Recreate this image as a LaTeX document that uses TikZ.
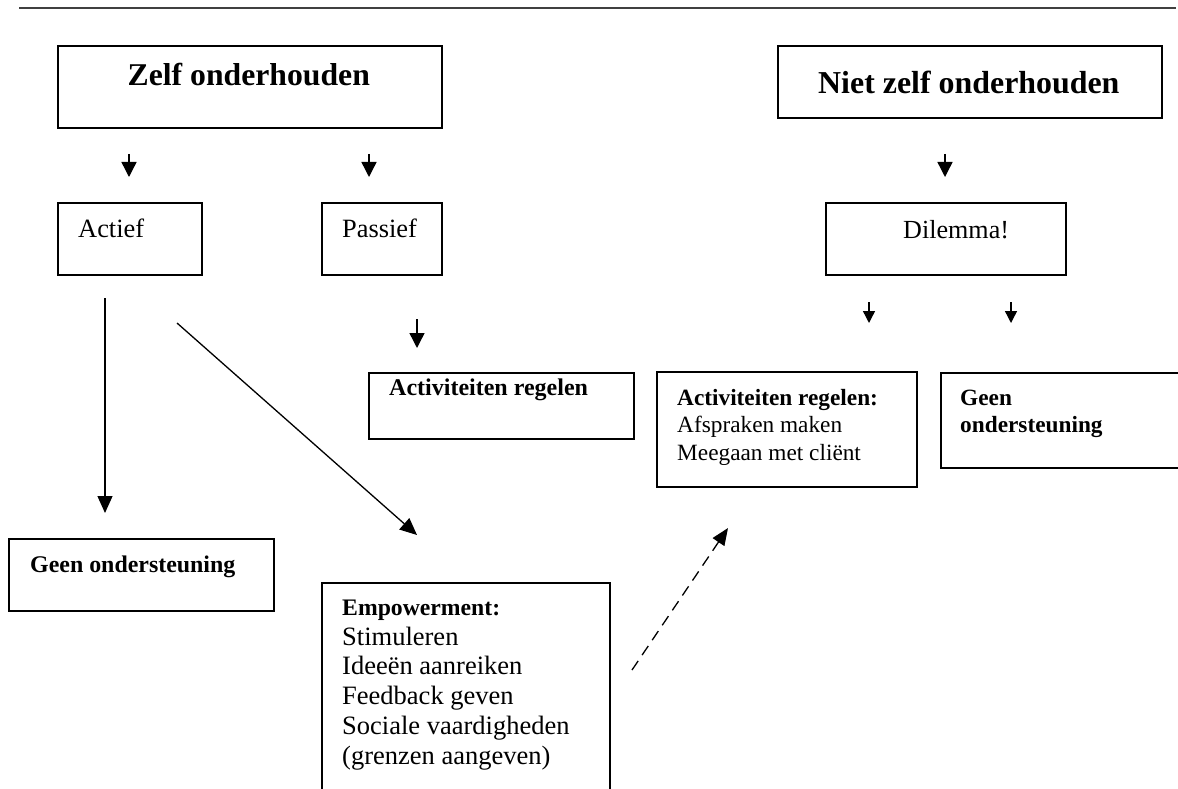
\documentclass[tikz,border=0pt]{standalone}
\usepackage{fontspec}
\setmainfont{Liberation Serif}
\usetikzlibrary{arrows.meta}
\begin{document}
\begin{tikzpicture}[x=1pt,y=-1pt,
  diagbox/.style={draw, line width=1.8pt, rectangle, inner sep=0pt, anchor=north west},
  lbl/.style={anchor=north west, inner sep=0pt, align=left},
  flow/.style={line width=1.4pt, -{Triangle[length=15pt,width=15pt]}},
  longflow/.style={line width=1.3pt, -{Triangle[length=17pt,width=15pt]}},
  tinyflow/.style={line width=1.4pt, -{Triangle[length=12pt,width=12pt]}},
  dashflow/.style={line width=1.3pt, dash pattern=on 11pt off 7pt, -{Triangle[length=17pt,width=14pt]}}]
\useasboundingbox (0,0) rectangle (1178,789);
\clip (0,0) rectangle (1178,789);
\fill[white] (0,0) rectangle (1178,789);

% rule along the top of the page
\coordinate (ruleL) at (19,8);
\coordinate (ruleR) at (1176,8);
\draw[line width=1.8pt, black!75] (ruleL) -- (ruleR);

% boxes
\node[diagbox, minimum width=384pt, minimum height=82pt] (zelf) at (57,45) {};
\node[diagbox, minimum width=384pt, minimum height=72pt] (niet) at (777,45) {};
\node[diagbox, minimum width=144pt, minimum height=72pt] (actief) at (57,202) {};
\node[diagbox, minimum width=120pt, minimum height=72pt] (passief) at (321,202) {};
\node[diagbox, minimum width=240pt, minimum height=72pt] (dilemma) at (825,202) {};
\node[diagbox, minimum width=265pt, minimum height=66pt] (regelen) at (368,372) {};
\node[diagbox, minimum width=260pt, minimum height=115pt] (afspraken) at (656,371) {};
\node[diagbox, minimum width=260pt, minimum height=95pt] (geenR) at (940,372) {};
\node[diagbox, minimum width=265pt, minimum height=72pt] (geenL) at (8,538) {};
\node[diagbox, minimum width=288pt, minimum height=240pt] (empower) at (321,582) {};

% texts
\node[lbl, font=\fontsize{31.7}{36}\selectfont\bfseries] (zelf-t) at (127.5,60) {\rule{0pt}{25pt}Zelf onderhouden};
\node[lbl, font=\fontsize{31.9}{36}\selectfont\bfseries] (niet-t) at (818,68) {\rule{0pt}{25pt}Niet zelf onderhouden};
\node[lbl, font=\fontsize{26.4}{30}\selectfont] (actief-t) at (78,215) {\rule{0pt}{22pt}Actief};
\node[lbl, font=\fontsize{26.4}{30}\selectfont] (passief-t) at (342,215) {\rule{0pt}{22pt}Passief};
\node[lbl, font=\fontsize{26.1}{30}\selectfont] (dilemma-t) at (903,216) {\rule{0pt}{22pt}Dilemma!};
\node[lbl, font=\fontsize{24}{28}\selectfont\bfseries] (regelen-t) at (389,373) {\rule{0pt}{22pt}Activiteiten regelen};
\node[lbl, font=\fontsize{23.3}{27.5}\selectfont] (afspraken-t) at (677,383)
  {\rule{0pt}{22pt}\textbf{Activiteiten regelen:}\\ Afspraken maken\\ Meegaan met cliënt};
\node[lbl, font=\fontsize{23.3}{27.3}\selectfont\bfseries] (geenR-t) at (960,383)
  {\rule{0pt}{22pt}Geen\\ ondersteuning};
\node[lbl, font=\fontsize{23.9}{28}\selectfont\bfseries] (geenL-t) at (30,550) {\rule{0pt}{22pt}Geen ondersteuning};
\node[lbl, font=\fontsize{26.5}{29.8}\selectfont] (empower-t) at (342,593)
  {\rule{0pt}{22pt}{\fontsize{23.7}{29.8}\selectfont\bfseries Empowerment:}\\ Stimuleren\\ Ideeën aanreiken\\
   Feedback geven\\ Sociale vaardigheden\\ (grenzen aangeven)};

% connector end points
\coordinate (z1s) at (129,154);  \coordinate (z1e) at (129,177);
\coordinate (z2s) at (369,154);  \coordinate (z2e) at (369,177);
\coordinate (n1s) at (945,154);  \coordinate (n1e) at (945,177);
\coordinate (a1s) at (105,298);  \coordinate (a1e) at (105,513);
\coordinate (a2s) at (177,323);  \coordinate (a2e) at (417,535);
\coordinate (p1s) at (417,319);  \coordinate (p1e) at (417,348);
\coordinate (d1s) at (869,302);  \coordinate (d1e) at (869,323);
\coordinate (d2s) at (1011,302); \coordinate (d2e) at (1011,323);
\coordinate (e1s) at (632,670);  \coordinate (e1e) at (728,528);

% connectors
\draw[flow] (z1s) -- (z1e);
\draw[flow] (z2s) -- (z2e);
\draw[flow] (n1s) -- (n1e);
\draw[longflow] (a1s) -- (a1e);
\draw[longflow] (a2s) -- (a2e);
\draw[flow] (p1s) -- (p1e);
\draw[tinyflow] (d1s) -- (d1e);
\draw[tinyflow] (d2s) -- (d2e);
\draw[dashflow] (e1s) -- (e1e);
\end{tikzpicture}
\end{document}
